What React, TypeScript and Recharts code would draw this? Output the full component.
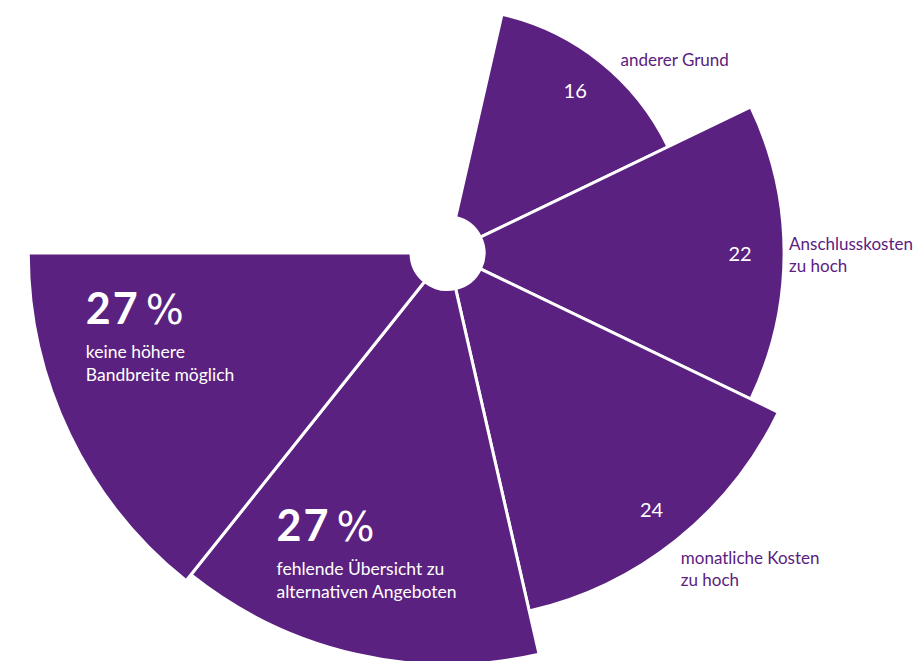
import React from 'react';
import { PieChart, Pie } from 'recharts';

const categories = [
  'anderer Grund',
  'Anschlusskosten zu hoch',
  'monatliche Kosten zu hoch',
  'fehlende Übersicht zu alternativen Angeboten',
  'keine höhere Bandbreite möglich',
];
// shares in percent (labels show rounded values; radii)
const values = [16, 22, 24, 26.9, 27.4];
const labelLines = [
  ['anderer Grund'],
  ['Anschlusskosten', 'zu hoch'],
  ['monatliche Kosten', 'zu hoch'],
  ['fehlende Übersicht zu', 'alternativen Angeboten'],
  ['keine höhere', 'Bandbreite möglich'],
];
const featured = [false, false, false, true, true];

const W = 923;
const H = 661;
const CX = 447.5;
const CY = 253;
const PX_PER_POINT = 15.3;
const HOLE = 36.5;
const SLOTS = 7;
const STEP = 360 / SLOTS;
const END_ANGLE = -180;
const PURPLE = '#5b2180';
const FONT = 'Lato, "Open Sans", sans-serif';

const RAD = Math.PI / 180;
const polar = (cx: number, cy: number, r: number, a: number) => ({
  x: cx + r * Math.cos(a * RAD),
  y: cy - r * Math.sin(a * RAD),
});

const nameNudge = [[11, 16], [-10, -3], [-5, 12], [0, 0], [0, 0]];
const valueNudge = [[0, -3], [-4, 0], [0, 0], [0, 0], [0, 0]];
const blockNudge = [[0, 0], [0, 0], [0, 0], [-105, -1], [-89.7, -60]];

function makeLabel(i: number) {
  return (props: any) => {
    const { cx, cy, midAngle, outerRadius } = props;
    const shown = Math.round(values[i]);
    if (featured[i]) {
      const b = polar(cx, cy, outerRadius * 0.72, midAngle);
      const x = b.x + blockNudge[i][0];
      const y = b.y + blockNudge[i][1];
      return (
        <g>
          <text x={x} y={y} fill="#fff" fontFamily={FONT} fontSize={43} fontWeight={700} letterSpacing={2}>
            {shown}
          </text>
          <text x={x + 60} y={y} fill="#fff" fontFamily='"DejaVu Sans", sans-serif' fontSize={40} fontWeight={400}>
            %
          </text>
          {labelLines[i].map((t, k) => (
            <text key={k} x={x} y={y + 34 + k * 23} fill="#fff" fontFamily={FONT} fontSize={17.5}>
              {t}
            </text>
          ))}
        </g>
      );
    }
    const inner = polar(cx, cy, outerRadius - 40, midAngle);
    const out = polar(cx, cy, outerRadius + 15, midAngle);
    const nx = out.x + nameNudge[i][0];
    const ny = out.y + nameNudge[i][1];
    return (
      <g>
        <text
          x={inner.x + valueNudge[i][0]}
          y={inner.y + valueNudge[i][1]}
          fill="#fff"
          fontFamily={FONT}
          fontSize={20}
          textAnchor="middle"
          dominantBaseline="central"
        >
          {shown}
        </text>
        {labelLines[i].map((t, k) => (
          <text key={k} x={nx} y={ny + k * 22} fill={PURPLE} fontFamily={FONT} fontSize={17}>
            {t}
          </text>
        ))}
      </g>
    );
  };
}

export default function App() {
  return (
    <div style={{ position: 'absolute', left: 0, top: 0, width: W, height: H, background: '#fff' }}>
      <PieChart width={W} height={H} margin={{ top: 0, right: 0, bottom: 0, left: 0 }}>
        {values.map((v, i) => {
          const start = END_ANGLE + (values.length - i) * STEP;
          return (
            <Pie
              key={i}
              data={[{ name: categories[i], value: v }]}
              dataKey="value"
              nameKey="name"
              cx={CX}
              cy={CY}
              startAngle={start}
              endAngle={start - STEP}
              innerRadius={HOLE}
              outerRadius={v * PX_PER_POINT}
              fill={PURPLE}
              stroke="#fff"
              strokeWidth={3}
              isAnimationActive={false}
              label={makeLabel(i)}
              labelLine={false}
            />
          );
        })}
      </PieChart>
    </div>
  );
}
